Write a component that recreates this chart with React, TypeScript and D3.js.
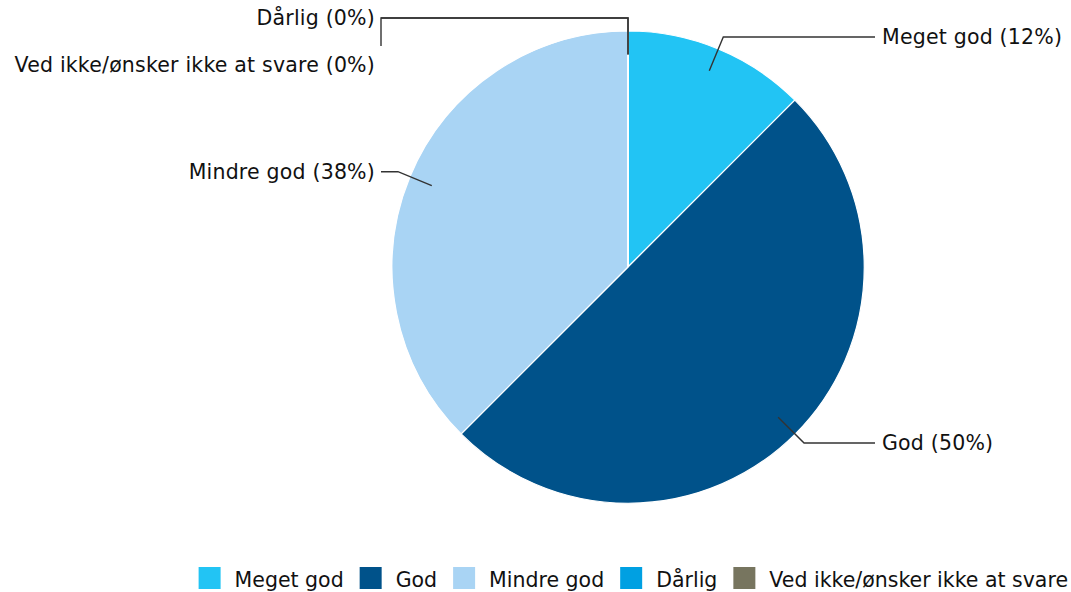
import React, { useEffect, useRef } from "react";
import * as d3 from "d3";

const categories = ["Meget god", "God", "Mindre god", "Dårlig", "Ved ikke/ønsker ikke at svare"];
const counts = [1, 4, 3, 0, 0];
const percentLabels = ["12%", "50%", "38%", "0%", "0%"];
const colors = ["#22c4f4", "#00528a", "#a9d4f4", "#00a0e2", "#77755f"];

const W = 1071;
const H = 592;
const FONT = "'DejaVu Sans', Verdana, sans-serif";

export default function App() {
  const ref = useRef<SVGSVGElement | null>(null);

  useEffect(() => {
    const svg = d3.select(ref.current);
    svg.selectAll("*").remove();

    const cx = 628, cy = 267, r = 236;
    const g = svg.append("g").attr("transform", `translate(${cx},${cy})`);

    const data = categories.map((c, i) => ({ name: c, value: counts[i], pct: percentLabels[i], color: colors[i] }));
    const pie = d3.pie<any>().value((d: any) => d.value).sort(null);
    const arcs = pie(data);
    const arc = d3.arc<any>().innerRadius(0).outerRadius(r);

    g.selectAll("path.slice")
      .data(arcs)
      .enter()
      .append("path")
      .attr("class", "slice")
      .attr("d", arc as any)
      .attr("fill", (d: any) => d.data.color)
      .attr("stroke", "#ffffff")
      .attr("stroke-width", 1.2);

    // labels
    const innerR = r * 0.9;
    const elbowR = r * 1.055;
    const rightX = 254;
    const leftX = -253;
    const placed: { y: number; side: number }[] = [];
    arcs.forEach((a: any) => {
      const mid = (a.startAngle + a.endAngle) / 2;
      const sx = Math.sin(mid), sy = -Math.cos(mid);
      const p0 = [innerR * sx, innerR * sy];
      const p1 = [elbowR * sx, elbowR * sy];
      const side = sx > 0.01 ? 1 : -1;
      let ly = p1[1];
      placed.forEach((p) => {
        if (p.side === side && Math.abs(p.y - ly) < 40) ly = p.y + 47;
      });
      placed.push({ y: ly, side });
      const tx = side > 0 ? rightX : leftX;
      const lineEnd = side > 0 ? tx - 7 : tx + 6;
      let pts: number[][];
      if (Math.abs(ly - p1[1]) < 0.5) {
        pts = [p0, p1, [lineEnd, p1[1]]];
      } else {
        pts = [p0, p1, [lineEnd, p1[1]], [lineEnd, p1[1] + 28]];
      }
      g.append("path")
        .attr("d", d3.line()(pts as any) as string)
        .attr("fill", "none")
        .attr("stroke", "#333333")
        .attr("stroke-width", 1.4);
      g.append("text")
        .attr("x", tx)
        .attr("y", ly)
        .attr("dy", "0.36em")
        .attr("text-anchor", side > 0 ? "start" : "end")
        .attr("font-family", FONT)
        .attr("font-size", 20.5)
        .attr("letter-spacing", 0.2)
        .attr("fill", "#111111")
        .text(`${a.data.name} (${a.data.pct})`);
    });

    // legend
    const lg = svg.append("g");
    const items: any[] = [];
    let x = 0;
    data.forEach((d) => {
      const it = lg.append("g");
      it.append("rect").attr("width", 22).attr("height", 22).attr("fill", d.color);
      const t = it
        .append("text")
        .attr("x", 36)
        .attr("y", 19.5)
        .attr("font-family", FONT)
        .attr("font-size", 20.5)
        .attr("fill", "#111111")
        .text(d.name);
      const w = (t.node() as SVGTextElement).getComputedTextLength();
      items.push({ it, x });
      x += 36 + w + 16;
    });
    const total = x - 16;
    const startX = 1068 - total;
    items.forEach(({ it, x }) => it.attr("transform", `translate(${startX + x},567)`));
  }, []);

  return (
    <svg
      ref={ref}
      width={W}
      height={H}
      style={{ position: "absolute", left: 0, top: 0, background: "#ffffff" }}
    />
  );
}
